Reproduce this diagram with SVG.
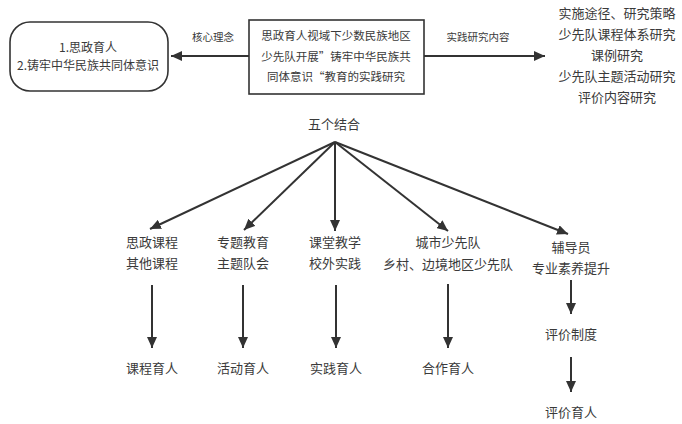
<svg xmlns="http://www.w3.org/2000/svg" width="682" height="424" viewBox="0 0 682 424">
<style>
text{font-family:"Microsoft YaHei","Noto Sans CJK SC","Noto Sans",sans-serif;fill:#3a3a3a;text-anchor:middle}
.t13{font-size:13px}
.t12{font-size:12px}
.t11{font-size:11.5px}
.lbl{font-size:10.5px}
.box{fill:#fff;stroke:#333;stroke-width:1.6}
.ln{stroke:#333;stroke-width:2;fill:none;marker-end:url(#ah)}
</style>
<defs>
<marker id="ah" markerUnits="userSpaceOnUse" markerWidth="12" markerHeight="10" refX="11" refY="5" orient="auto">
<path d="M0,0 L11,5 L0,10 z" fill="#333"/>
</marker>
</defs>
<rect width="682" height="424" fill="#fff"/>
<g id="connectors">
<line class="ln" x1="249" y1="56" x2="171" y2="56"/>
<line class="ln" x1="424" y1="56" x2="545" y2="56"/>
<line class="ln" x1="335" y1="142" x2="150" y2="229"/>
<line class="ln" x1="335" y1="142" x2="244" y2="230"/>
<line class="ln" x1="335" y1="142" x2="335" y2="231"/>
<line class="ln" x1="335" y1="142" x2="448" y2="231"/>
<line class="ln" x1="335" y1="142" x2="568" y2="234"/>
<line class="ln" x1="152" y1="285" x2="152" y2="348"/>
<line class="ln" x1="243" y1="285" x2="243" y2="348"/>
<line class="ln" x1="336" y1="285" x2="336" y2="348"/>
<line class="ln" x1="448" y1="284" x2="448" y2="348"/>
<line class="ln" x1="571" y1="280" x2="571" y2="314"/>
<line class="ln" x1="571" y1="357" x2="571" y2="392"/>
<text class="lbl" x="213" y="41">核心理念</text>
<text class="lbl" x="478" y="41">实践研究内容</text>
</g>
<g id="core">
<rect class="box" x="10" y="22" width="158" height="69" rx="20"/>
<text class="t12" x="88" y="52">1.思政育人</text>
<text class="t12" x="88" y="70">2.铸牢中华民族共同体意识</text>
</g>
<g id="topic">
<rect class="box" x="249" y="20" width="175" height="74"/>
<text class="t11" x="336" y="40">思政育人视域下少数民族地区</text>
<text class="t11" x="336" y="60.5">少先队开展”铸牢中华民族共</text>
<text class="t11" x="336" y="81">同体意识“教育的实践研究</text>
</g>
<g id="content">
<text class="t13" x="617" y="18">实施途径、研究策略</text>
<text class="t13" x="617" y="39">少先队课程体系研究</text>
<text class="t13" x="617" y="60">课例研究</text>
<text class="t13" x="617" y="81">少先队主题活动研究</text>
<text class="t13" x="617" y="102">评价内容研究</text>
</g>
<g id="five"><text class="t13" x="334" y="129">五个结合</text></g>
<g id="n1"><text class="t13" x="152" y="247">思政课程</text><text class="t13" x="152" y="268">其他课程</text></g>
<g id="n2"><text class="t13" x="243" y="247">专题教育</text><text class="t13" x="243" y="268">主题队会</text></g>
<g id="n3"><text class="t13" x="335" y="247">课堂教学</text><text class="t13" x="335" y="268">校外实践</text></g>
<g id="n4"><text class="t13" x="448" y="247">城市少先队</text><text class="t13" x="448" y="269">乡村、边境地区少先队</text></g>
<g id="n5"><text class="t13" x="571" y="252">辅导员</text><text class="t13" x="571" y="273">专业素养提升</text></g>
<g id="r1"><text class="t13" x="152" y="373">课程育人</text></g>
<g id="r2"><text class="t13" x="243" y="373">活动育人</text></g>
<g id="r3"><text class="t13" x="336" y="373">实践育人</text></g>
<g id="r4"><text class="t13" x="448" y="373">合作育人</text></g>
<g id="r5a"><text class="t13" x="571" y="339">评价制度</text></g>
<g id="r5b"><text class="t13" x="571" y="417">评价育人</text></g>
</svg>
